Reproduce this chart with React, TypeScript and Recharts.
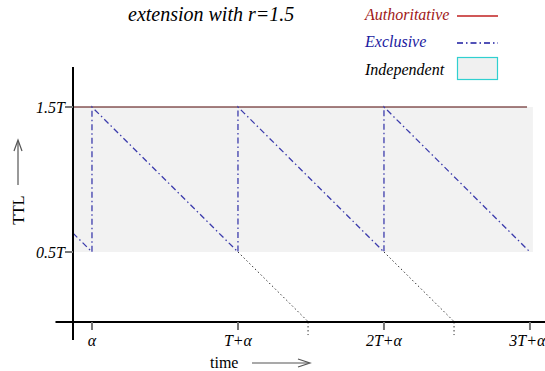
import { ComposedChart, Line, XAxis, YAxis, ReferenceArea, ReferenceLine } from 'recharts'

// time in units of T, TTL in units of T
const ALPHA = 0.13
const xTicks = [ALPHA, 1 + ALPHA, 2 + ALPHA, 3 + ALPHA]
const xTickLabels = ['α', 'T+α', '2T+α', '3T+α']
const yTicks = [0.5, 1.5]
const yTickLabels = ['0.5T', '1.5T']

const exclusiveT = [0, 0.13, 0.13, 1.13, 1.13, 2.13, 2.13, 3.13]
const exclusiveTTL = [0.63, 0.5, 1.5, 0.5, 1.5, 0.5, 1.5, 0.5]

const authoritativeTTL = 1.5
const authoritativeEnd = 3.11
const independentLow = 0.5
const independentHigh = 1.5
const independentEnd = 3.15

// expired records continue below the 0.5T floor
const expiryStartT = [1.13, 2.13]
const expiryEndT = [1.61, 2.61]
const expiryEndTTL = [0.02, 0.02]

const X_MAX = 3.233
const Y_MIN = 0.017
const Y_MAX = 1.776

const exclusiveData = exclusiveT.map((t, i) => ({ t, v: exclusiveTTL[i] }))
const expiryData = expiryStartT.map((t, i) => [
  { t, v: 0.5 },
  { t: expiryEndT[i], v: expiryEndTTL[i] },
])

const serif = '"Liberation Serif", "Times New Roman", serif'
const tickStyle = { fontSize: 16, fontStyle: 'italic', fill: '#000', fontFamily: serif }

const App = () => (
  <div style={{ position: 'absolute', left: 0, top: 0, width: 545, height: 371, background: '#fff', fontFamily: serif }}>
    <ComposedChart width={545} height={371} margin={{ top: 67, right: 0, left: 13, bottom: 19 }}>
      <ReferenceArea
        x1={0}
        x2={independentEnd}
        y1={independentLow}
        y2={independentHigh}
        fill="#f2f2f2"
        fillOpacity={1}
        stroke="none"
      />
      <XAxis
        type="number"
        dataKey="t"
        domain={[0, X_MAX]}
        ticks={xTicks}
        tickFormatter={(v: number) => xTickLabels[xTicks.indexOf(v)] ?? ''}
        axisLine={false}
        tickSize={8}
        tickMargin={5}
        tickLine={{ stroke: '#777', strokeWidth: 2 }}
        tick={tickStyle}
        height={30}
        allowDataOverflow
      />
      <YAxis
        type="number"
        domain={[Y_MIN, Y_MAX]}
        ticks={yTicks}
        tickFormatter={(v: number) => yTickLabels[yTicks.indexOf(v)] ?? ''}
        axisLine={false}
        tickSize={8}
        tickMargin={0}
        tickLine={{ stroke: '#777', strokeWidth: 2 }}
        tick={tickStyle}
        width={60}
        allowDataOverflow
      />
      <ReferenceLine
        segment={[{ x: 0, y: authoritativeTTL }, { x: authoritativeEnd, y: authoritativeTTL }]}
        stroke="#4a0000"
        strokeWidth={1}
        ifOverflow="visible"
      />
      {expiryData.map((d, i) => (
        <Line
          key={i}
          data={d}
          dataKey="v"
          type="linear"
          stroke="#333"
          strokeWidth={1}
          strokeDasharray="1.5 2.5"
          dot={false}
          isAnimationActive={false}
        />
      ))}
      {expiryEndT.map((t, i) => (
        <ReferenceLine
          key={`e${i}`}
          segment={[{ x: t, y: Y_MIN }, { x: t, y: Y_MIN - 0.09 }]}
          stroke="#333"
          strokeDasharray="1.5 2.5"
          ifOverflow="visible"
        />
      ))}
      <Line
        data={exclusiveData}
        dataKey="v"
        type="linear"
        stroke="#3c3cac"
        strokeWidth={1.3}
        strokeDasharray="6 3 1.5 3"
        dot={false}
        isAnimationActive={false}
      />
      <ReferenceLine
        segment={[{ x: -0.12, y: Y_MIN }, { x: X_MAX, y: Y_MIN }]}
        stroke="#000"
        strokeWidth={2}
        ifOverflow="visible"
      />
      <ReferenceLine
        segment={[{ x: 0, y: Y_MAX }, { x: 0, y: Y_MIN - 0.125 }]}
        stroke="#000"
        strokeWidth={2}
        ifOverflow="visible"
      />
    </ComposedChart>

    <div style={{ position: 'absolute', left: 128, top: 3, fontSize: 20, fontStyle: 'italic', whiteSpace: 'nowrap' }}>
      extension with r=1.5
    </div>

    <div style={{ position: 'absolute', left: 365, top: 6, fontSize: 16, fontStyle: 'italic', color: '#a01818' }}>Authoritative</div>
    <div style={{ position: 'absolute', left: 365, top: 33, fontSize: 16, fontStyle: 'italic', color: '#1a1aa0' }}>Exclusive</div>
    <div style={{ position: 'absolute', left: 365, top: 61, fontSize: 16, fontStyle: 'italic', color: '#000' }}>Independent</div>

    <svg style={{ position: 'absolute', left: 0, top: 0 }} width={545} height={371}>
      <line x1={457} y1={16} x2={498} y2={16} stroke="#c02020" strokeWidth={1.3} />
      <line x1={457} y1={43} x2={498} y2={43} stroke="#1a1aa0" strokeWidth={1.3} strokeDasharray="6 3 1.5 3" />
      <rect x={457.5} y={57.5} width={40} height={22} fill="#f0f0f0" stroke="#30d0d0" strokeWidth={1.2} />
      {/* axis captions with arrows */}
      <text x={24} y={210} transform="rotate(-90 24 210)" textAnchor="middle" fontSize={16} fontFamily={serif}>TTL</text>
      <line x1={18} y1={185} x2={18} y2={141} stroke="#555" strokeWidth={1.2} />
      <polyline points="14,151 18,140 22,151" fill="none" stroke="#555" strokeWidth={1.2} />
      <text x={210} y={368} fontSize={16} fontFamily={serif}>time</text>
      <line x1={252} y1={363} x2={309} y2={363} stroke="#555" strokeWidth={1.2} />
      <polyline points="298,359 310,363 298,367" fill="none" stroke="#555" strokeWidth={1.2} />
    </svg>
  </div>
)

export default App
